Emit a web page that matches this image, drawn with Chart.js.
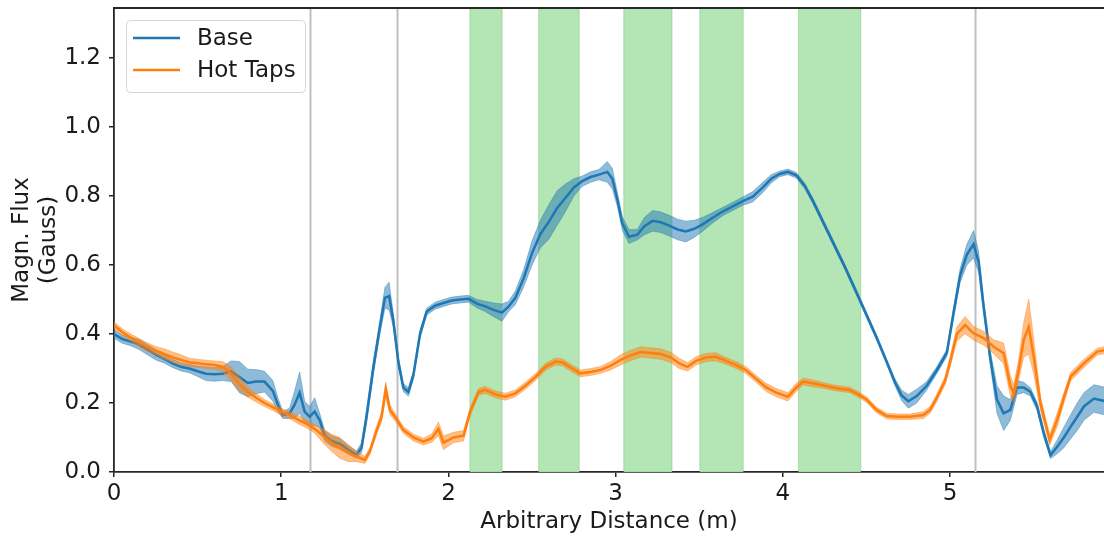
<!DOCTYPE html>
<html>
<head>
<meta charset="utf-8">
<script src="https://cdn.jsdelivr.net/npm/chart.js@4"></script>
<style>
html, body { margin: 0; padding: 0; background: #fff; overflow: hidden; }
</style>
</head>
<body>
<canvas id="fluxChart" width="1104" height="536"></canvas>
<script>
// series names
var seriesNames = ['Base', 'Hot Taps'];

// Base: distance (m), mean flux (Gauss), half width of shaded band
var baseX = [0.00,0.05,0.10,0.15,0.20,0.25,0.30,0.35,0.40,0.45,0.50,0.55,0.60,0.65,0.70,0.75,0.80,0.85,0.90,0.95,
	0.98,1.01,1.05,1.08,1.11,1.14,1.17,1.20,1.23,1.26,1.30,1.35,1.40,1.45,1.48,1.51,1.55,1.59,1.62,1.645,
	1.67,1.70,1.73,1.76,1.79,1.83,1.87,1.92,1.97,2.02,2.07,2.12,2.17,2.22,2.27,2.32,2.36,2.40,2.45,2.50,
	2.55,2.60,2.65,2.70,2.75,2.80,2.85,2.90,2.95,2.98,3.01,3.04,3.08,3.13,3.17,3.22,3.27,3.32,3.37,3.42,
	3.47,3.52,3.58,3.64,3.70,3.76,3.82,3.88,3.93,3.98,4.03,4.08,4.13,4.18,4.23,4.30,4.37,4.44,4.50,4.56,
	4.62,4.67,4.71,4.75,4.80,4.86,4.92,4.98,5.02,5.06,5.10,5.14,5.17,5.20,5.24,5.28,5.32,5.36,5.40,5.44,
	5.48,5.52,5.56,5.60,5.64,5.68,5.72,5.76,5.80,5.86,5.93];
var baseMean = [0.400,0.385,0.378,0.370,0.355,0.340,0.328,0.315,0.305,0.300,0.292,0.285,0.283,0.285,0.292,0.275,0.258,0.262,0.262,0.235,
	0.195,0.165,0.170,0.195,0.230,0.175,0.160,0.175,0.150,0.105,0.090,0.082,0.065,0.050,0.070,0.160,0.300,0.420,0.505,0.510,
	0.440,0.320,0.245,0.232,0.280,0.400,0.465,0.482,0.490,0.497,0.500,0.502,0.488,0.480,0.470,0.462,0.480,0.505,0.562,0.635,
	0.690,0.725,0.765,0.795,0.825,0.843,0.855,0.862,0.870,0.850,0.790,0.720,0.682,0.688,0.712,0.728,0.724,0.714,0.703,0.697,
	0.705,0.718,0.737,0.755,0.770,0.785,0.798,0.825,0.850,0.864,0.870,0.860,0.830,0.785,0.735,0.665,0.595,0.520,0.455,0.390,
	0.320,0.260,0.222,0.205,0.220,0.250,0.295,0.345,0.460,0.570,0.630,0.660,0.610,0.480,0.330,0.210,0.170,0.180,0.245,0.245,
	0.232,0.190,0.112,0.049,0.073,0.100,0.131,0.160,0.190,0.213,0.205];
var baseSpread = [0.012,0.012,0.012,0.015,0.015,0.015,0.012,0.012,0.012,0.012,0.015,0.020,0.020,0.020,0.030,0.045,0.040,0.035,0.030,0.030,
	0.020,0.010,0.015,0.040,0.060,0.030,0.030,0.040,0.020,0.015,0.015,0.015,0.012,0.010,0.015,0.020,0.020,0.020,0.030,0.040,
	0.020,0.015,0.012,0.012,0.012,0.012,0.010,0.010,0.010,0.010,0.010,0.010,0.012,0.015,0.020,0.025,0.015,0.020,0.025,0.035,
	0.040,0.050,0.050,0.040,0.025,0.015,0.015,0.015,0.030,0.030,0.020,0.020,0.020,0.015,0.025,0.030,0.030,0.030,0.030,0.030,
	0.025,0.020,0.015,0.012,0.012,0.012,0.015,0.015,0.012,0.008,0.008,0.008,0.008,0.008,0.008,0.008,0.008,0.008,0.008,0.008,
	0.008,0.010,0.015,0.020,0.020,0.012,0.010,0.010,0.015,0.020,0.030,0.040,0.030,0.020,0.020,0.040,0.050,0.030,0.020,0.015,
	0.012,0.012,0.012,0.010,0.020,0.030,0.035,0.040,0.040,0.040,0.040];

// Hot Taps
var hotX = [0.00,0.05,0.10,0.15,0.20,0.25,0.30,0.35,0.40,0.45,0.50,0.55,0.60,0.65,0.70,0.75,0.80,0.85,0.90,0.95,
	1.00,1.05,1.10,1.15,1.20,1.25,1.30,1.35,1.40,1.45,1.50,1.53,1.57,1.60,1.625,1.65,1.68,1.73,1.79,1.85,
	1.90,1.94,1.97,2.03,2.09,2.13,2.18,2.22,2.28,2.34,2.40,2.46,2.52,2.58,2.64,2.68,2.74,2.79,2.85,2.91,
	2.97,3.03,3.09,3.15,3.21,3.27,3.33,3.38,3.43,3.48,3.54,3.60,3.66,3.72,3.78,3.84,3.90,3.96,4.03,4.08,
	4.12,4.18,4.25,4.32,4.40,4.45,4.50,4.56,4.62,4.68,4.76,4.84,4.88,4.92,4.97,5.00,5.04,5.09,5.14,5.20,
	5.26,5.32,5.36,5.38,5.41,5.44,5.47,5.50,5.54,5.595,5.64,5.68,5.72,5.80,5.88,5.93];
var hotMean = [0.425,0.405,0.390,0.375,0.362,0.352,0.342,0.333,0.325,0.318,0.315,0.312,0.310,0.305,0.285,0.255,0.232,0.215,0.200,0.188,
	0.175,0.165,0.152,0.140,0.125,0.105,0.085,0.070,0.055,0.045,0.035,0.060,0.120,0.160,0.240,0.180,0.160,0.122,0.100,0.088,
	0.098,0.125,0.085,0.100,0.105,0.175,0.232,0.238,0.225,0.218,0.228,0.250,0.275,0.305,0.320,0.318,0.300,0.286,0.290,0.296,
	0.308,0.325,0.338,0.348,0.345,0.342,0.332,0.315,0.305,0.322,0.332,0.334,0.322,0.310,0.295,0.270,0.245,0.230,0.218,0.245,
	0.262,0.257,0.250,0.243,0.238,0.225,0.210,0.180,0.162,0.160,0.160,0.165,0.180,0.215,0.265,0.320,0.400,0.426,0.402,0.388,
	0.363,0.344,0.250,0.228,0.296,0.383,0.421,0.334,0.199,0.093,0.151,0.215,0.276,0.315,0.349,0.354];
var hotSpread = [0.010,0.010,0.010,0.012,0.012,0.012,0.015,0.015,0.015,0.012,0.012,0.012,0.012,0.015,0.020,0.020,0.015,0.012,0.010,0.010,
	0.010,0.010,0.012,0.012,0.012,0.020,0.025,0.030,0.025,0.015,0.010,0.010,0.012,0.015,0.020,0.015,0.010,0.010,0.010,0.010,
	0.012,0.020,0.020,0.015,0.015,0.012,0.010,0.010,0.010,0.010,0.010,0.010,0.010,0.010,0.010,0.010,0.010,0.010,0.010,0.010,
	0.012,0.015,0.015,0.015,0.015,0.015,0.015,0.015,0.012,0.012,0.012,0.012,0.010,0.010,0.010,0.010,0.012,0.012,0.012,0.012,
	0.010,0.010,0.008,0.008,0.008,0.008,0.008,0.008,0.008,0.008,0.008,0.010,0.010,0.010,0.012,0.015,0.020,0.025,0.020,0.020,
	0.020,0.030,0.030,0.025,0.030,0.050,0.080,0.050,0.020,0.015,0.020,0.015,0.012,0.012,0.010,0.010];

// vertical gray markers and green zones (m)
var markerLines = [1.175, 1.695, 5.146];
var zoneStart = [2.128, 2.539, 3.048, 3.503, 4.093];
var zoneEnd = [2.321, 2.782, 3.337, 3.763, 4.466];

// axis ticks
var xTicks = [0, 1, 2, 3, 4, 5];
var yTicks = [0.0, 0.2, 0.4, 0.6, 0.8, 1.0, 1.2];

var BLUE = '#1f77b4', ORANGE = '#ff7f0e';
var FONT = "'DejaVu Sans', sans-serif";
var FSIZE = 23;

function pts(xs, ys, spread, sign) {
	var out = [];
	for (var i = 0; i < xs.length; i++) {
		out.push({x: xs[i], y: ys[i] + (spread ? sign * spread[i] : 0)});
	}
	return out;
}

function band(label, xs, ys, spread, sign, color, order, fill) {
	return {
		label: label, data: pts(xs, ys, spread, sign),
		borderColor: color, borderWidth: 0.8, backgroundColor: color,
		pointRadius: 0, tension: 0, fill: fill, order: order
	};
}

var zonesPlugin = {
	id: 'zones',
	beforeDatasetsDraw: function (chart) {
		var ctx = chart.ctx, a = chart.chartArea, xs = chart.scales.x;
		ctx.save();
		ctx.beginPath();
		ctx.rect(a.left, a.top, a.right - a.left, a.bottom - a.top);
		ctx.clip();
		for (var i = 0; i < zoneStart.length; i++) {
			var x0 = xs.getPixelForValue(zoneStart[i]), x1 = xs.getPixelForValue(zoneEnd[i]);
			ctx.fillStyle = 'rgb(180,229,180)';
			ctx.fillRect(x0, a.top, x1 - x0, a.bottom - a.top);
			ctx.strokeStyle = 'rgba(44,160,44,0.25)';
			ctx.lineWidth = 1;
			ctx.strokeRect(x0, a.top, x1 - x0, a.bottom - a.top);
		}
		ctx.strokeStyle = '#c0c0c0';
		ctx.lineWidth = 2;
		markerLines.forEach(function (v) {
			var x = Math.round(xs.getPixelForValue(v)) + 0.5;
			ctx.beginPath();
			ctx.moveTo(x, a.top);
			ctx.lineTo(x, a.bottom);
			ctx.stroke();
		});
		ctx.restore();
	},
	afterDraw: function (chart) {
		var ctx = chart.ctx, a = chart.chartArea;
		ctx.save();
		// top spine
		ctx.strokeStyle = '#262626';
		ctx.lineWidth = 1.8;
		ctx.beginPath();
		ctx.moveTo(a.left, a.top);
		ctx.lineTo(chart.width, a.top);
		ctx.stroke();
		// legend box
		var bx = 126, by = 20, bw = 179, bh = 72;
		ctx.fillStyle = 'rgba(255,255,255,0.8)';
		ctx.strokeStyle = '#d6d6d6';
		ctx.lineWidth = 1;
		ctx.beginPath();
		ctx.roundRect(bx + 0.5, by + 0.5, bw, bh, 4);
		ctx.fill();
		ctx.stroke();
		var colors = [BLUE, ORANGE];
		ctx.font = FSIZE + 'px ' + FONT;
		ctx.textBaseline = 'middle';
		ctx.textAlign = 'left';
		for (var i = 0; i < seriesNames.length; i++) {
			var y = 38 + i * 32;
			ctx.strokeStyle = colors[i];
			ctx.lineWidth = 2.4;
			ctx.beginPath();
			ctx.moveTo(133, y);
			ctx.lineTo(180, y);
			ctx.stroke();
			ctx.fillStyle = '#1a1a1a';
			ctx.fillText(seriesNames[i], 197, y + 1);
		}
		ctx.restore();
	}
};

var ctx = document.getElementById('fluxChart').getContext('2d');
var fluxChart = new Chart(ctx, {
	type: 'line',
	data: {
		datasets: [
			band('base_hi', baseX, baseMean, baseSpread, 1, 'rgba(31,119,180,0.5)', 6, '+1'),
			band('base_lo', baseX, baseMean, baseSpread, -1, 'rgba(31,119,180,0.5)', 5, false),
			{label: seriesNames[0], data: pts(baseX, baseMean), borderColor: BLUE, borderWidth: 2.5,
				pointRadius: 0, tension: 0, fill: false, order: 4},
			band('hot_hi', hotX, hotMean, hotSpread, 1, 'rgba(255,127,14,0.5)', 3, '+1'),
			band('hot_lo', hotX, hotMean, hotSpread, -1, 'rgba(255,127,14,0.5)', 2, false),
			{label: seriesNames[1], data: pts(hotX, hotMean), borderColor: ORANGE, borderWidth: 2.5,
				pointRadius: 0, tension: 0, fill: false, order: 1}
		]
	},
	options: {
		responsive: false,
		animation: false,
		layout: { padding: { top: 8, right: 0, left: 0, bottom: 0 } },
		plugins: { legend: { display: false }, tooltip: { enabled: false } },
		scales: {
			x: {
				type: 'linear', min: 0, max: 5.92,
				afterBuildTicks: function (s) { s.ticks = xTicks.map(function (v) { return {value: v}; }); },
				afterFit: function (s) { s.height = 64; s.paddingLeft = 0; s.paddingRight = 0; },
				grid: { drawOnChartArea: false, drawTicks: true, tickLength: 5, color: '#262626', lineWidth: 1.5 },
				border: { display: true, color: '#262626', width: 1.8 },
				ticks: { color: '#1a1a1a', padding: 3, font: { family: FONT, size: FSIZE }, maxRotation: 0,
					callback: function (v) { return String(v); } },
				title: { display: true, text: 'Arbitrary Distance (m)', color: '#1a1a1a',
					font: { family: FONT, size: FSIZE }, padding: { top: 0, bottom: 0 } }
			},
			y: {
				min: 0, max: 1.345,
				afterBuildTicks: function (s) { s.ticks = yTicks.map(function (v) { return {value: v}; }); },
				afterFit: function (s) { s.width = 114; s.paddingTop = 0; s.paddingBottom = 0; },
				grid: { drawOnChartArea: false, drawTicks: true, tickLength: 5, color: '#262626', lineWidth: 1.5 },
				border: { display: true, color: '#262626', width: 1.8 },
				ticks: { color: '#1a1a1a', padding: 8, font: { family: FONT, size: FSIZE },
					callback: function (v) { return v.toFixed(1); } },
				title: { display: true, text: ['Magn. Flux', '(Gauss)'], color: '#1a1a1a',
					font: { family: FONT, size: FSIZE, lineHeight: 1.2 }, padding: { top: 8, bottom: 0 } }
			}
		}
	},
	plugins: [zonesPlugin]
});
</script>
</body>
</html>
